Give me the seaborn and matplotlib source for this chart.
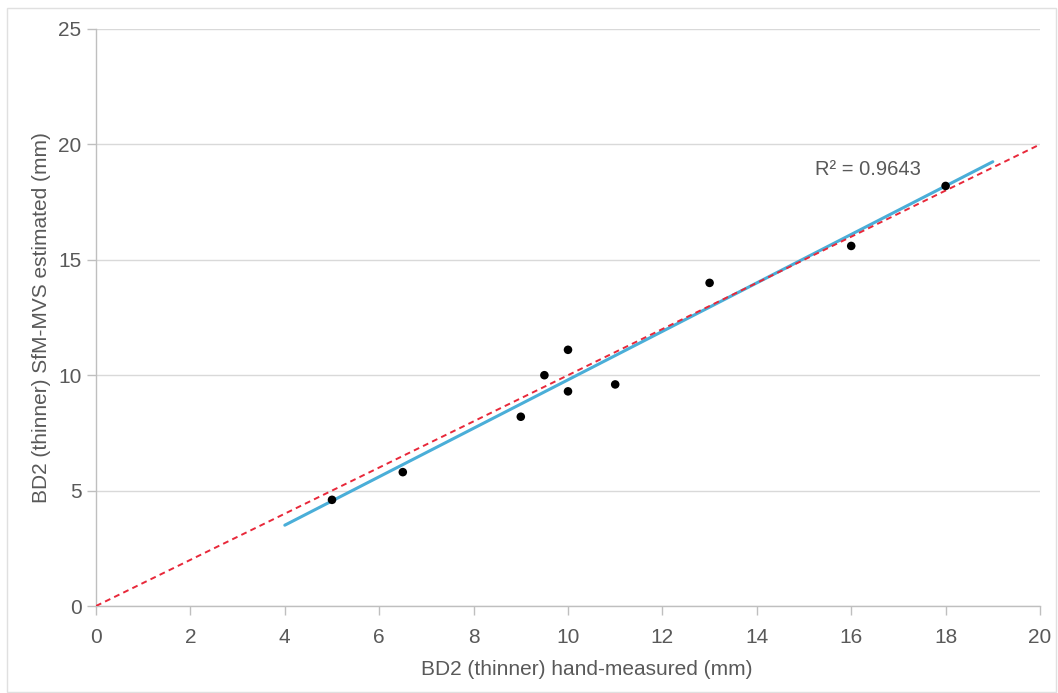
import numpy as np
import pandas as pd
import seaborn as sns
import matplotlib
matplotlib.use("Agg")
import matplotlib.pyplot as plt
from matplotlib.patches import Rectangle

# Data
hand_measured = [5.0, 6.5, 9.0, 9.5, 10.0, 10.0, 11.0, 13.0, 16.0, 18.0]
sfm_estimated = [4.6, 5.8, 8.2, 10.0, 11.1, 9.3, 9.6, 14.0, 15.6, 18.2]
identity_x = [0, 20]
identity_y = [0, 20]
trend_extent = [4, 19]
x_ticks = [0, 2, 4, 6, 8, 10, 12, 14, 16, 18, 20]
y_ticks = [0, 5, 10, 15, 20, 25]
x_label = "BD2 (thinner) hand-measured (mm)"
y_label = "BD2 (thinner) SfM-MVS estimated (mm)"

df = pd.DataFrame({"x": hand_measured, "y": sfm_estimated})

# Linear fit (trendline)
slope, intercept = np.polyfit(df["x"], df["y"], 1)
pred = slope * df["x"] + intercept
r2 = 1 - np.sum((df["y"] - pred) ** 2) / np.sum((df["y"] - df["y"].mean()) ** 2)
trend_df = pd.DataFrame({"x": trend_extent,
                         "y": [slope * v + intercept for v in trend_extent]})
ident_df = pd.DataFrame({"x": identity_x, "y": identity_y})

sns.set_theme(style="white")
plt.rcParams["font.family"] = ["Liberation Sans", "DejaVu Sans"]

fig = plt.figure(figsize=(10.58, 6.93), dpi=100)
ax = fig.add_axes([96 / 1058, 1 - 606 / 693, (1040 - 96) / 1058, (606 - 29) / 693])

# figure border
fig.patches.append(Rectangle((7 / 1058, 1 / 693), 1049 / 1058, 684 / 693,
                             transform=fig.transFigure, fill=False,
                             edgecolor="#e0e0e0", linewidth=1.0))

ax.set_xlim(0, 20)
ax.set_ylim(0, 25)
ax.set_xticks(x_ticks)
ax.set_yticks(y_ticks)
ax.yaxis.grid(True, color="#d9d9d9", linewidth=1.0)
ax.xaxis.grid(False)
ax.set_axisbelow(True)

sns.lineplot(data=trend_df, x="x", y="y", ax=ax, color="#4aaed8", linewidth=2.2,
             zorder=3)
sns.lineplot(data=ident_df, x="x", y="y", ax=ax, color="#e8283a", linewidth=1.4,
             linestyle=(0, (3, 2.2)), zorder=4)
sns.scatterplot(data=df, x="x", y="y", ax=ax, color="black", s=38,
                edgecolor="none", zorder=5)

ax.text(15.23, 18.9, f"R\u00b2 = {r2:.4f}", fontsize=14.5, color="#595959",
        ha="left", va="center")

for s in ["top", "right"]:
    ax.spines[s].set_visible(False)
for s in ["left", "bottom"]:
    ax.spines[s].set_color("#bfbfbf")
    ax.spines[s].set_linewidth(1.0)

ax.tick_params(axis="both", which="major", length=6.5, width=1.0,
               color="#bfbfbf", labelcolor="#595959", labelsize=15,
               bottom=True, left=True)
ax.tick_params(axis="x", pad=9)
ax.tick_params(axis="y", pad=4)
ax.set_xlabel(x_label, fontsize=15, color="#595959", labelpad=10)
ax.set_ylabel(y_label, fontsize=15, color="#595959", labelpad=5)
ax.xaxis.label.set_x(0.52)

fig.savefig("out.png", dpi=100, facecolor="white")
